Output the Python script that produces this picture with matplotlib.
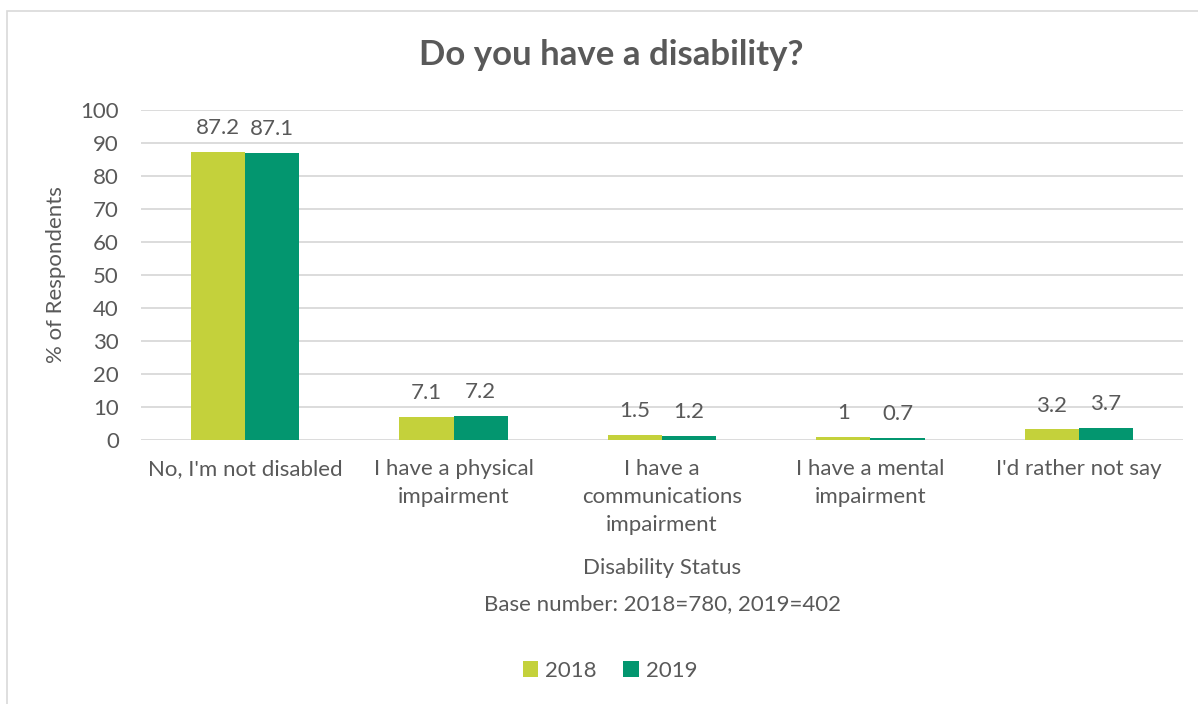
import matplotlib
matplotlib.use("Agg")
import matplotlib.pyplot as plt
from matplotlib.patches import Rectangle
import numpy as np

plt.rcParams["font.family"] = ["Lato", "DejaVu Sans"]

categories = ["No, I'm not disabled", "I have a physical\nimpairment",
              "I have a\ncommunications\nimpairment", "I have a mental\nimpairment",
              "I'd rather not say"]
vals_2018 = [87.2, 7.1, 1.5, 1.0, 3.2]
vals_2019 = [87.1, 7.2, 1.2, 0.7, 3.7]
labels_2018 = ["87.2", "7.1", "1.5", "1", "3.2"]
labels_2019 = ["87.1", "7.2", "1.2", "0.7", "3.7"]

C18 = "#c4d13b"
C19 = "#03966f"
TXT = "#595959"
GRID = "#d9d9d9"
FS = 16

fig = plt.figure(figsize=(11.98, 7.04), dpi=100)
fig.patches.append(Rectangle((7 / 1198, -0.01), 1.2, 1 - 11 / 704 + 0.01,
                             transform=fig.transFigure, fill=False,
                             ec=GRID, lw=1.2))
ax = fig.add_axes([141 / 1198, 1 - 440 / 704, 1042 / 1198, 330 / 704])

x = np.arange(len(categories))
w = 0.26
b1 = ax.bar(x - w / 2, vals_2018, w, color=C18, label="2018", zorder=3)
b2 = ax.bar(x + w / 2, vals_2019, w, color=C19, label="2019", zorder=3)
for bars, labs in ((b1, labels_2018), (b2, labels_2019)):
    for r, t in zip(bars, labs):
        ax.annotate(t, (r.get_x() + r.get_width() / 2, r.get_height()),
                    xytext=(0, 10), textcoords="offset points", ha="center",
                    va="bottom", fontsize=FS, color=TXT)

ax.set_xlim(-0.5, len(categories) - 0.5)
ax.set_ylim(0, 100)
ax.set_yticks(range(0, 101, 10))
ax.yaxis.grid(True, color=GRID, lw=1.3, zorder=0)
ax.set_axisbelow(True)
for s in ax.spines.values():
    s.set_visible(False)
ax.tick_params(length=0, labelsize=FS, colors=TXT)
ax.tick_params(axis="y", pad=16)
ax.set_xticks(x)
ax.set_xticklabels(categories, va="top", linespacing=1.5)
ax.tick_params(axis="x", pad=14)
ax.set_ylabel("% of Respondents", fontsize=FS, color=TXT, labelpad=10)

fig.text(0.5 + 12 / 1198, 1 - 55 / 704, "Do you have a disability?", ha="center",
         va="center", fontsize=25, fontweight="bold", color=TXT)
fig.text(662 / 1198, 1 - 568 / 704, "Disability Status", ha="center",
         va="center", fontsize=FS, color=TXT)
fig.text(662 / 1198, 1 - 604 / 704, "Base number: 2018=780, 2019=402",
         ha="center", va="center", fontsize=FS, color=TXT)

fig.legend(handles=[b1, b2], loc="center", bbox_to_anchor=(610 / 1198, 1 - 671 / 704),
           ncol=2, frameon=False, fontsize=FS, labelcolor=TXT, handlelength=0.7,
           handleheight=0.7, handletextpad=0.3, columnspacing=1.2)

fig.savefig("out.png", dpi=100, facecolor="white")
